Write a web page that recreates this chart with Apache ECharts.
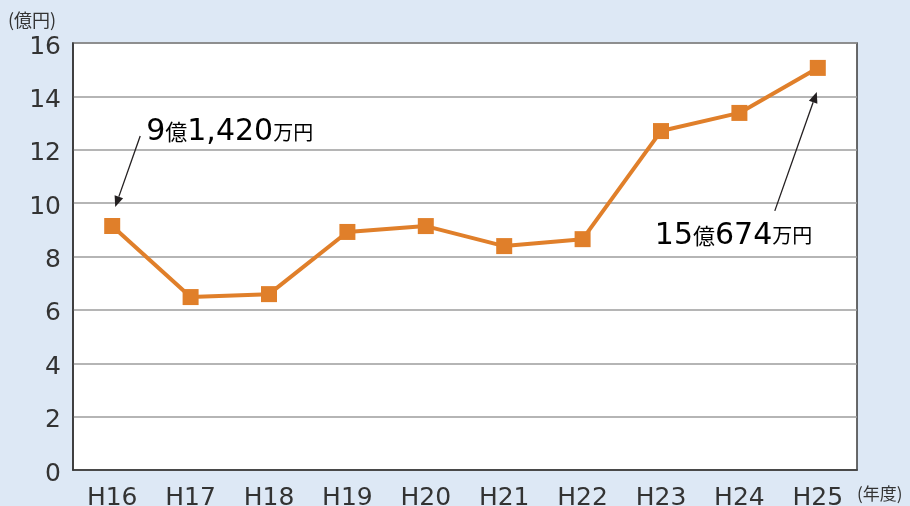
<!DOCTYPE html>
<html>
<head>
<meta charset="utf-8">
<script src="https://cdn.jsdelivr.net/npm/echarts@6/dist/echarts.min.js"></script>
<style>
	html, body {margin: 0; padding: 0; background: #dde8f5;}
	#chart {width: 910px; height: 506px;}
</style>
</head>
<body>
<div id="chart"></div>
<script>
let years = ['H16', 'H17', 'H18', 'H19', 'H20', 'H21', 'H22', 'H23', 'H24', 'H25'];
let amounts = [9.142, 6.48, 6.59, 8.92, 9.14, 8.39, 8.65, 12.70, 13.38, 15.067];
let yTicks = {min: 0, max: 16, interval: 2};

let numFont = '"DejaVu Sans", "Noto Sans CJK JP", sans-serif';
let jpFont = '"Noto Sans CJK JP", sans-serif';
let ink = '#231f20';
let orange = '#e07f2a';

let chart = echarts.init(document.getElementById('chart'));

chart.setOption({
	backgroundColor: '#dde8f5',
	animation: false,
	grid: {
		left: 73,
		right: 53,
		top: 43,
		bottom: 36,
		outerBoundsMode: 'none',
		containLabel: false,
		show: true,
		backgroundColor: '#fff',
		borderColor: '#3a3a3a',
		borderWidth: 1.5,
	},
	xAxis: {
		type: 'category',
		data: years,
		boundaryGap: true,
		axisLine: {lineStyle: {color: '#333', width: 1.5}},
		axisTick: {inside: true, length: 10, lineStyle: {color: '#333', width: 1.5}},
		axisLabel: {color: '#333', fontSize: 25, margin: 16, fontFamily: numFont},
	},
	yAxis: {
		type: 'value',
		min: yTicks.min,
		max: yTicks.max,
		interval: yTicks.interval,
		axisLine: {show: true, lineStyle: {color: '#333', width: 1.5}},
		axisTick: {show: false},
		axisLabel: {
			color: '#333', fontSize: 25, margin: 12, fontFamily: numFont,
			verticalAlign: 'top', lineHeight: 8,
		},
		splitLine: {lineStyle: {color: '#9d9d9d', width: 1.5}},
	},
	series: [{
		type: 'line',
		data: amounts,
		symbol: 'rect',
		symbolSize: 16,
		lineStyle: {color: orange, width: 4},
		itemStyle: {color: orange},
		z: 5,
	}],
});

// arrow from (x1,y1) to (x2,y2), head at the end
let arrow = ((x1, y1, x2, y2) => {
	let a = Math.atan2(y2 - y1, x2 - x1);
	let len = 11, w = 4.5;
	let bx = x2 - len * Math.cos(a), by = y2 - len * Math.sin(a);
	let px = -Math.sin(a) * w, py = Math.cos(a) * w;
	return [
		{type: 'line', shape: {x1, y1, x2: bx, y2: by}, style: {stroke: ink, lineWidth: 1.3}, z: 10},
		{type: 'polygon', shape: {points: [[x2, y2], [bx + px, by + py], [bx - px, by - py]]}, style: {fill: ink}, z: 10},
	];
});

let rich = {
	big: {fontSize: 30, color: ink, fontFamily: numFont},
	mid: {fontSize: 22, color: ink, fontFamily: jpFont},
	small: {fontSize: 20, color: ink, fontFamily: jpFont},
};

let p0 = chart.convertToPixel({seriesIndex: 0}, [0, amounts[0]]);
let p9 = chart.convertToPixel({seriesIndex: 0}, [9, amounts[9]]);

chart.setOption({
	graphic: [
		{type: 'text', left: 8, top: 11, style: {text: '(億円)', fontSize: 18, fill: '#333', fontFamily: jpFont}},
		{type: 'text', left: 857, top: 485, style: {text: '(年度)', fontSize: 17, fill: '#333', fontFamily: jpFont}},
		...arrow(p0[0] + 28, p0[1] - 90, p0[0] + 3, p0[1] - 19),
		{
			type: 'text', x: p0[0] + 34, y: p0[1] - 94, z: 10,
			style: {
				text: '{big|9}{mid|億}{big|1,420}{small|万円}',
				rich, verticalAlign: 'middle', align: 'left',
			},
		},
		...arrow(p9[0] - 43, p9[1] + 143, p9[0] - 1, p9[1] + 24),
		{
			type: 'text', x: p9[0] - 163, y: p9[1] + 168, z: 10,
			style: {
				text: '{big|15}{mid|億}{big|674}{small|万円}',
				rich, verticalAlign: 'middle', align: 'left',
			},
		},
	],
});
</script>
</body>
</html>
